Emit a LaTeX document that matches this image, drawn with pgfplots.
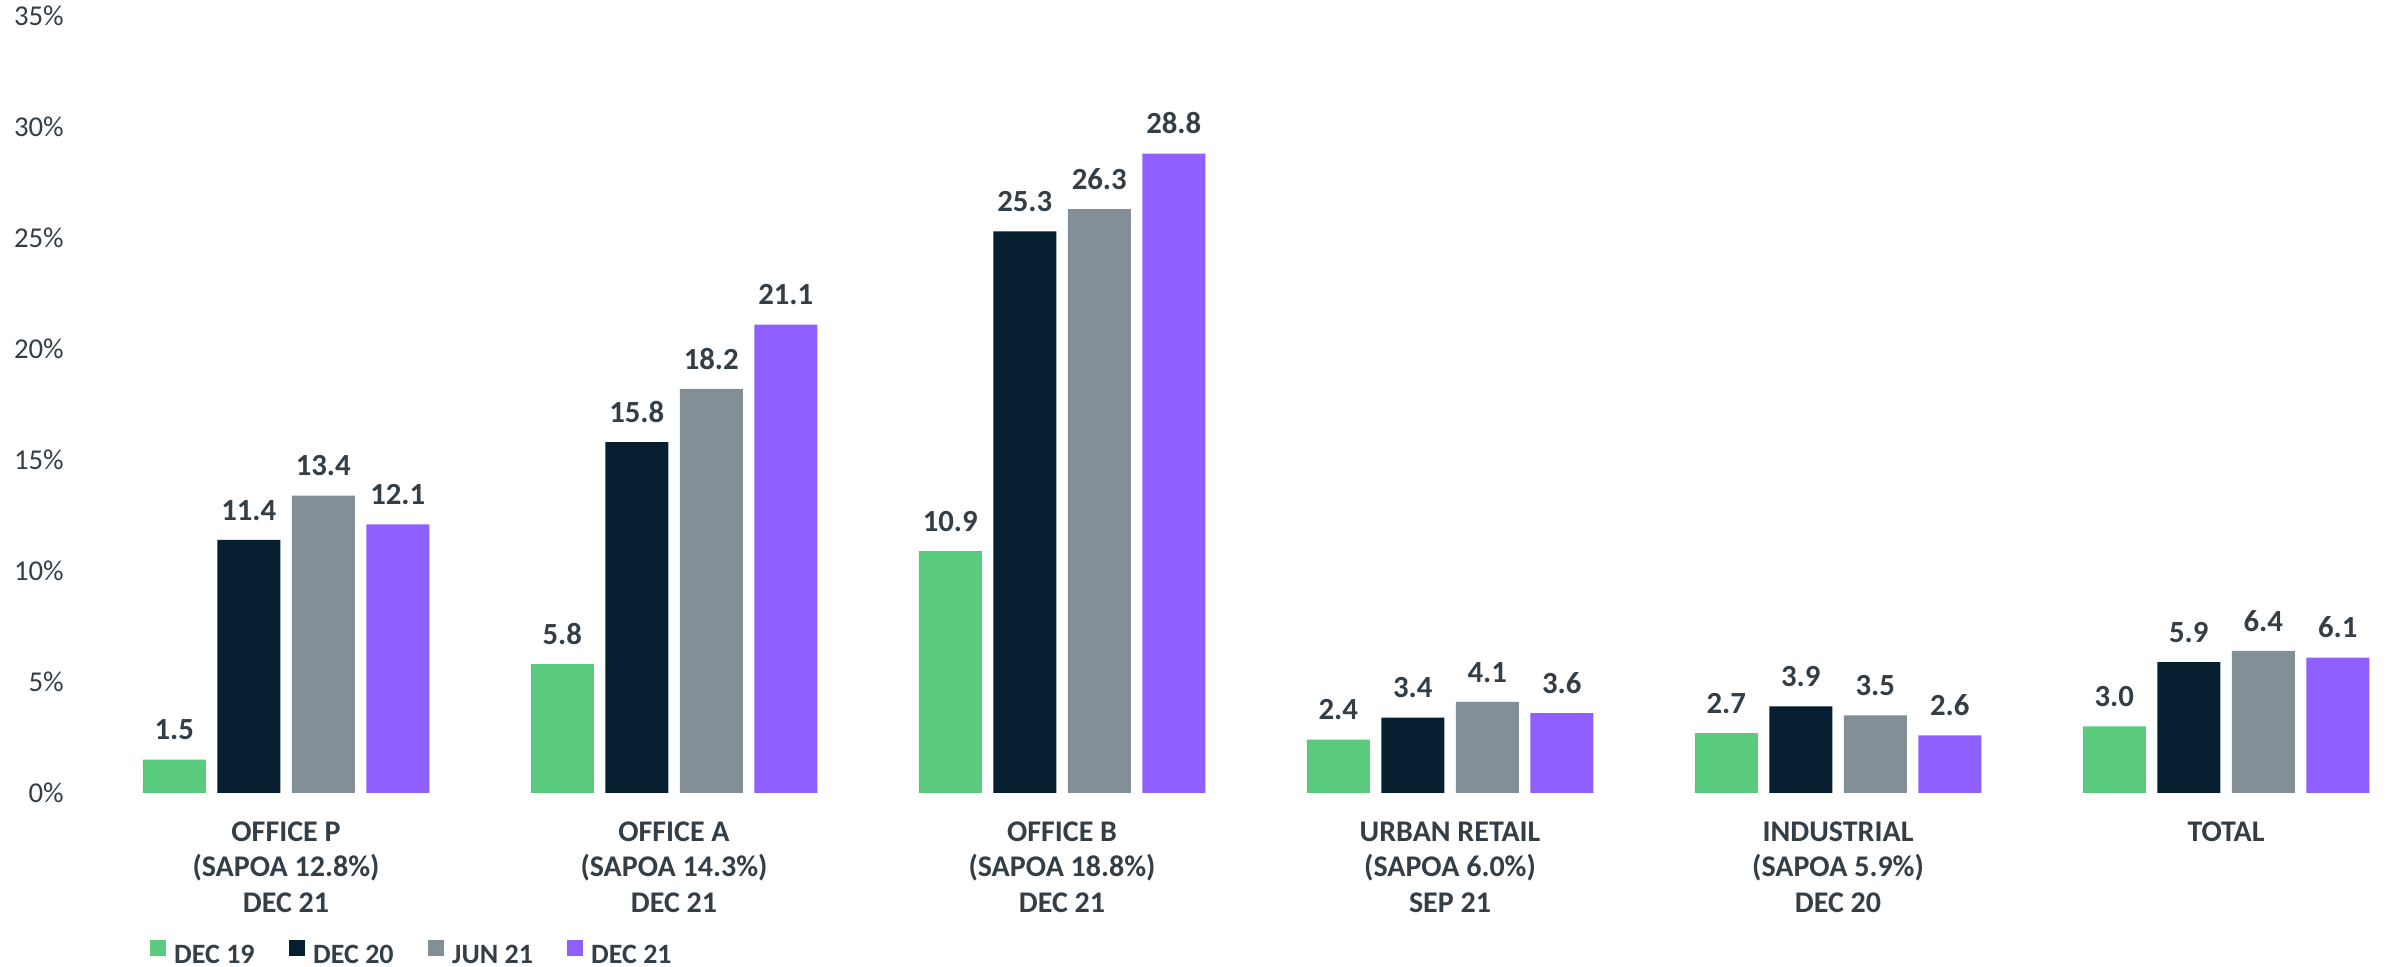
\documentclass[border=0pt]{standalone}
\usepackage{pgfplots}
\pgfplotsset{compat=1.18}
\usepackage{fontspec}
\setmainfont{Carlito}
\definecolor{textc}{HTML}{343E47}
\definecolor{cgreen}{HTML}{5ACA7C}
\definecolor{cnavy}{HTML}{061F30}
\definecolor{cgray}{HTML}{828F96}
\definecolor{cpurple}{HTML}{8F5FFF}
\begin{document}
\begin{tikzpicture}
\begin{axis}[
  at={(29.04pt,69.6pt)}, anchor=south west,
  scale only axis, width=925pt, height=310.8pt,
  xmin=-0.55, xmax=5.41, ymin=0, ymax=35,
  axis line style={draw=none},
  major tick length=0pt,
  ytick={0,5,...,35},
  yticklabel={\pgfmathprintnumber{\tick}\%},
  /pgf/number format/assume math mode=true,
  yticklabel style={font=\fontsize{11.5}{13}\selectfont, text=textc},
  xtick={0,1,2,3,4,5},
  xticklabels={{OFFICE P\\(SAPOA 12.8\%)\\DEC 21},{OFFICE A\\(SAPOA 14.3\%)\\DEC 21},{OFFICE B\\(SAPOA 18.8\%)\\DEC 21},{URBAN RETAIL\\(SAPOA 6.0\%)\\SEP 21},{INDUSTRIAL\\(SAPOA 5.9\%)\\DEC 20},{TOTAL}},
  xticklabel style={align=center, anchor=north, inner sep=0pt, yshift=-11.3pt, font=\bfseries\fontsize{12}{14.2}\selectfont, text=textc},
  ybar=4.6pt, bar width=25.2pt,
  nodes near coords={\pgfmathprintnumber[fixed,fixed zerofill,precision=1]{\pgfplotspointmeta}},
  every node near coord/.append style={font=\bfseries\fontsize{12.3}{14}\selectfont, text=textc, inner sep=0pt, anchor=south, yshift=7.6pt},
  clip=false,
  legend columns=4,
  legend style={at={(0.03347,-0.2069)}, anchor=west, draw=none, fill=none, inner sep=0pt, outer sep=0pt,
    font=\bfseries\fontsize{11.2}{13}\selectfont, text=textc,
    nodes={inner sep=0pt},
    /tikz/every odd column/.style={column sep=3.3pt},
    /tikz/every even column/.style={column sep=0pt}},
  legend image code/.code={\fill[#1] (0pt,0pt) rectangle (6.4pt,6.2pt);},
]
\addplot[fill=cgreen, draw=none] coordinates {(0,1.5) (1,5.8) (2,10.9) (3,2.4) (4,2.7) (5,3.0)};
\addplot[fill=cnavy, draw=none] coordinates {(0,11.4) (1,15.8) (2,25.3) (3,3.4) (4,3.9) (5,5.9)};
\addplot[fill=cgray, draw=none] coordinates {(0,13.4) (1,18.2) (2,26.3) (3,4.1) (4,3.5) (5,6.4)};
\addplot[fill=cpurple, draw=none] coordinates {(0,12.1) (1,21.1) (2,28.8) (3,3.6) (4,2.6) (5,6.1)};
\legend{\makebox[45.9pt][l]{DEC 19},\makebox[45.9pt][l]{DEC 20},\makebox[45.9pt][l]{JUN 21},\makebox[45.9pt][l]{DEC 21}}
\end{axis}
\pgfresetboundingbox
\path (0pt,0pt) rectangle (954.8pt,386.8pt);
\end{tikzpicture}
\end{document}
